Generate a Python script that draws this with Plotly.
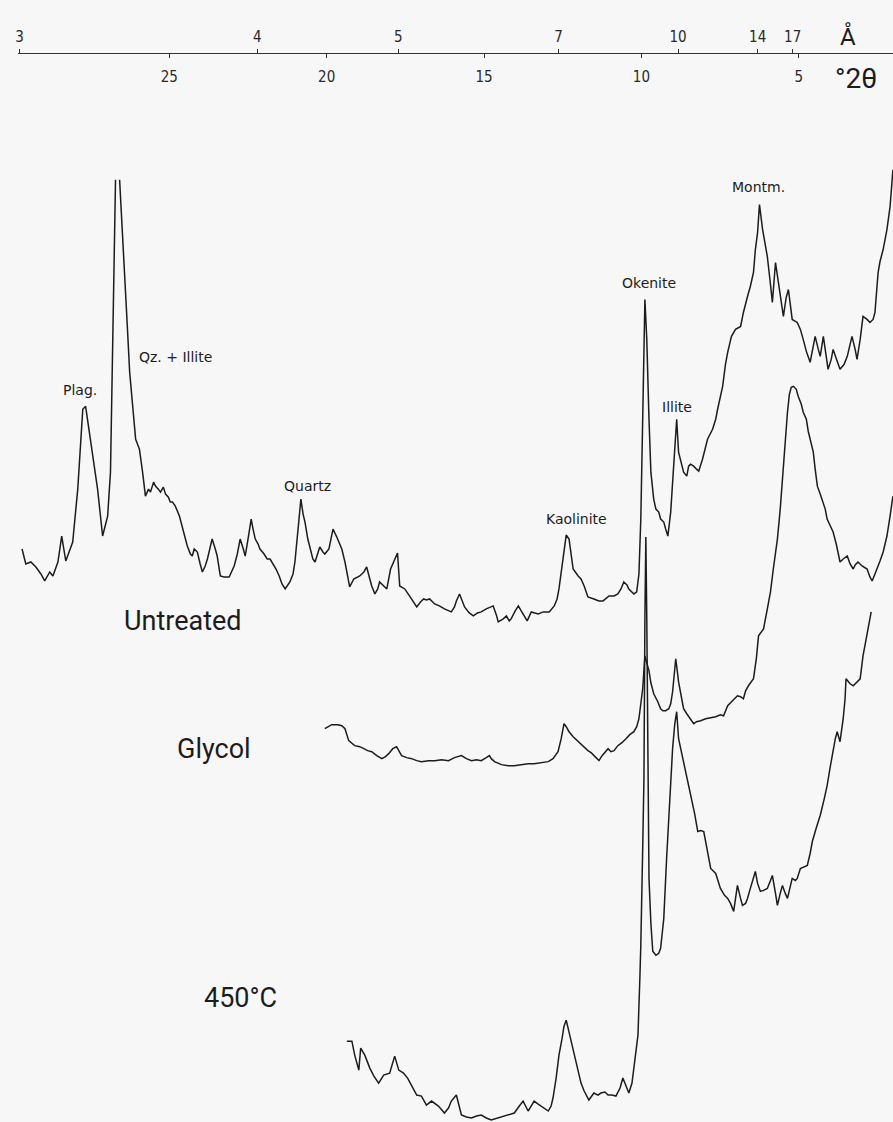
import numpy as np
import plotly.graph_objects as go

# ---- diffraction data (2-theta in degrees, intensity in arbitrary units, stacked) ----
untreated_2theta = [
    29.68, 29.56, 29.40, 29.24, 29.08, 28.96, 28.80, 28.70, 28.54, 28.42,
    28.29, 28.07, 27.91, 27.75, 27.66, 27.56, 27.44, 27.28, 27.12, 26.96,
    26.87, 26.77, 26.71, 26.645, 26.58, 26.49, 26.42, 26.33, 26.26, 26.17,
    26.07, 26.01, 25.95, 25.85, 25.76, 25.66, 25.60, 25.50, 25.44, 25.35,
    25.28, 25.19, 25.12, 25.03, 24.97, 24.90, 24.81, 24.68, 24.59, 24.49,
    24.43, 24.33, 24.27, 24.21, 24.11, 24.02, 23.95, 23.86, 23.79, 23.70,
    23.64, 23.54, 23.48, 23.38, 23.26, 23.10, 23.00, 22.94, 22.84, 22.75,
    22.65, 22.59, 22.50, 22.40, 22.34, 22.27, 22.18, 22.12, 21.99, 21.89,
    21.80, 21.74, 21.61, 21.51, 21.42, 21.32, 21.23, 21.17, 21.07, 21.01,
    20.91, 20.82, 20.75, 20.69, 20.60, 20.53, 20.44, 20.37, 20.28, 20.22,
    20.12, 20.06, 19.93, 19.80, 19.68, 19.58, 19.52, 19.42, 19.33, 19.27,
    19.14, 19.04, 18.95, 18.82, 18.73, 18.63, 18.57, 18.47, 18.38, 18.32,
    18.19, 18.09, 17.97, 17.84, 17.75, 17.68, 17.52, 17.37, 17.24, 17.14,
    17.02, 16.92, 16.83, 16.73, 16.57, 16.42, 16.26, 16.13, 16.04, 15.94,
    15.88, 15.78, 15.69, 15.62, 15.47, 15.34, 15.21, 15.09, 14.93, 14.77,
    14.71, 14.61, 14.55, 14.39, 14.29, 14.20, 14.14, 14.01, 13.91, 13.82,
    13.76, 13.63, 13.50, 13.41, 13.28, 13.12, 12.93, 12.77, 12.68, 12.62,
    12.55, 12.49, 12.39, 12.30, 12.24, 12.17, 12.01, 11.92, 11.82, 11.70,
    11.51, 11.35, 11.22, 11.03, 10.87, 10.75, 10.65, 10.56, 10.46, 10.40,
    10.24, 10.15, 10.08, 10.02, 9.96, 9.89, 9.83, 9.80, 9.76, 9.70,
    9.61, 9.54, 9.45, 9.39, 9.29, 9.23, 9.16, 9.07, 9.01, 8.94,
    8.88, 8.82, 8.75, 8.66, 8.56, 8.50, 8.44, 8.34, 8.25, 8.18,
    8.06, 7.96, 7.90, 7.74, 7.64, 7.58, 7.49, 7.42, 7.33, 7.26,
    7.14, 7.01, 6.85, 6.76, 6.63, 6.54, 6.44, 6.38, 6.31, 6.25,
    6.15, 6.06, 6.00, 5.90, 5.84, 5.74, 5.65, 5.55, 5.49, 5.40,
    5.33, 5.27, 5.21, 5.05, 4.95, 4.86, 4.76, 4.64, 4.57, 4.48,
    4.38, 4.32, 4.22, 4.13, 4.07, 3.97, 3.91, 3.78, 3.69, 3.56,
    3.46, 3.37, 3.31, 3.21, 3.15, 3.05, 2.96, 2.83, 2.74, 2.64,
    2.58, 2.48, 2.42, 2.32, 2.20, 2.10, 2.01,
]
# None marks the off-scale top of the quartz + illite reflection
untreated_counts = [
    572, 557, 559, 554, 547, 540, 549, 545, 559, 585,
    560, 579, 632, 712, 715, 692, 665, 632, 585, 605,
    649, 822, 942, None, 942, 892, 855, 792, 749, 715,
    682, 677, 672, 649, 625, 632, 629, 639, 635, 632,
    629, 634, 627, 624, 619, 619, 615, 605, 595, 584,
    575, 567, 565, 572, 569, 557, 549, 555, 562, 574,
    582, 572, 565, 545, 544, 544, 550, 555, 567, 582,
    572, 565, 582, 602, 592, 582, 577, 572, 567, 562,
    562, 559, 552, 545, 537, 532, 537, 539, 547, 559,
    592, 622, 607, 599, 582, 572, 562, 559, 567, 574,
    569, 567, 572, 592, 584, 577, 572, 559, 545, 534,
    542, 544, 545, 549, 554, 542, 535, 527, 532, 539,
    535, 532, 552, 562, 568, 535, 532, 525, 519, 514,
    519, 522, 521, 522, 517, 515, 512, 510, 509, 514,
    520, 527, 519, 514, 508, 505, 508, 509, 512, 514,
    515, 506, 499, 502, 505, 500, 502, 510, 515, 510,
    507, 500, 509, 508, 507, 509, 509, 515, 522, 532,
    550, 565, 586, 582, 566, 552, 545, 542, 535, 524,
    522, 520, 520, 525, 525, 527, 532, 539, 536, 532,
    527, 529, 547, 602, 702, 822, 782, 742, 702, 649,
    622, 612, 609, 602, 599, 592, 585, 609, 637, 669,
    702, 669, 660, 649, 645, 655, 657, 655, 652, 650,
    662, 674, 682, 692, 702, 712, 727, 735, 757, 769,
    785, 792, 795, 809, 825, 835, 849, 872, 889, 917,
    892, 877, 865, 837, 819, 859, 839, 822, 805, 824,
    832, 817, 802, 799, 792, 782, 770, 759, 772, 785,
    772, 765, 785, 767, 752, 762, 772, 760, 752, 757,
    765, 777, 785, 772, 762, 782, 805, 802, 799, 802,
    809, 849, 860, 872, 892, 915, 952,
]

glycol_2theta = [
    20.06, 19.84, 19.65, 19.52, 19.42, 19.30, 19.11, 18.95, 18.82, 18.70,
    18.57, 18.41, 18.25, 18.13, 18.03, 17.90, 17.78, 17.68, 17.62, 17.46,
    17.30, 17.14, 16.99, 16.76, 16.57, 16.35, 16.13, 15.94, 15.72, 15.56,
    15.40, 15.24, 15.09, 14.93, 14.83, 14.77, 14.67, 14.45, 14.23, 14.04,
    13.82, 13.60, 13.41, 13.19, 12.96, 12.81, 12.65, 12.55, 12.46, 12.39,
    12.30, 12.17, 12.01, 11.86, 11.70, 11.60, 11.51, 11.41, 11.35, 11.25,
    11.13, 11.06, 10.97, 10.87, 10.75, 10.62, 10.49, 10.37, 10.24, 10.15,
    10.08, 10.02, 9.96, 9.89, 9.83, 9.76, 9.70, 9.61, 9.48, 9.39,
    9.32, 9.23, 9.13, 9.07, 9.01, 8.94, 8.91, 8.85, 8.82, 8.72,
    8.66, 8.56, 8.44, 8.34, 8.25, 8.12, 7.96, 7.80, 7.64, 7.49,
    7.39, 7.26, 7.11, 6.95, 6.85, 6.76, 6.69, 6.60, 6.44, 6.35,
    6.28, 6.12, 6.00, 5.90, 5.81, 5.68, 5.59, 5.52, 5.43, 5.36,
    5.30, 5.24, 5.17, 5.08, 5.02, 4.92, 4.86, 4.76, 4.70, 4.64,
    4.54, 4.48, 4.41, 4.32, 4.26, 4.16, 4.10, 4.00, 3.91, 3.81,
    3.75, 3.69, 3.59, 3.46, 3.37, 3.27, 3.21, 3.12, 2.99, 2.83,
    2.74, 2.67, 2.58, 2.51, 2.42, 2.32, 2.20, 2.10, 2.01,
]
glycol_counts = [
    392, 396, 396, 395, 392, 380, 375, 374, 372, 370,
    369, 365, 362, 364, 367, 372, 374, 369, 365, 363,
    362, 360, 359, 360, 360, 361, 360, 363, 365, 362,
    360, 361, 360, 363, 365, 362, 359, 356, 355, 355,
    356, 357, 357, 358, 359, 362, 369, 382, 397, 394,
    389, 384, 379, 374, 370, 368, 365, 362, 360, 365,
    370, 372, 369, 370, 375, 378, 382, 386, 389, 394,
    402, 417, 432, 465, 459, 450, 438, 427, 419, 412,
    410, 410, 412, 417, 429, 450, 462, 447, 439, 422,
    412, 407, 402, 397, 399, 400, 402, 403, 404, 406,
    405, 415, 420, 425, 424, 422, 430, 435, 442, 462,
    485, 492, 512, 529, 552, 582, 612, 642, 682, 709,
    727, 734, 735, 732, 725, 717, 709, 702, 690, 682,
    669, 652, 635, 627, 622, 612, 602, 595, 589, 577,
    566, 559, 562, 565, 557, 552, 556, 559, 555, 552,
    544, 540, 547, 552, 560, 569, 585, 605, 625,
]

heated_2theta = [
    19.36, 19.20, 19.11, 18.98, 18.92, 18.79, 18.63, 18.50, 18.35, 18.19,
    18.00, 17.84, 17.71, 17.56, 17.43, 17.30, 17.14, 16.99, 16.83, 16.67,
    16.45, 16.26, 16.13, 16.04, 15.88, 15.72, 15.56, 15.40, 15.24, 15.09,
    14.93, 14.77, 14.55, 14.36, 14.20, 14.04, 13.88, 13.76, 13.60, 13.50,
    13.41, 13.28, 13.19, 12.96, 12.87, 12.81, 12.71, 12.62, 12.52, 12.46,
    12.39, 12.33, 12.24, 12.14, 12.01, 11.92, 11.82, 11.67, 11.51, 11.38,
    11.29, 11.16, 11.06, 10.94, 10.81, 10.68, 10.59, 10.49, 10.40, 10.30,
    10.24, 10.18, 10.11, 10.05, 10.02, 9.96, 9.92, 9.89, 9.86, 9.83,
    9.80, 9.76, 9.70, 9.64, 9.54, 9.45, 9.39, 9.29, 9.20, 9.10,
    9.01, 8.94, 8.88, 8.82, 8.75, 8.69, 8.59, 8.53, 8.44, 8.31,
    8.21, 8.12, 8.02, 7.90, 7.80, 7.64, 7.55, 7.49, 7.36, 7.26,
    7.17, 7.07, 7.01, 6.95, 6.85, 6.79, 6.69, 6.63, 6.54, 6.44,
    6.38, 6.31, 6.22, 6.12, 6.00, 5.90, 5.84, 5.74, 5.68, 5.59,
    5.52, 5.43, 5.36, 5.27, 5.21, 5.11, 5.05, 4.95, 4.83, 4.73,
    4.64, 4.57, 4.45, 4.32, 4.19, 4.10, 4.00, 3.91, 3.84, 3.78,
    3.69, 3.59, 3.53, 3.50, 3.37, 3.27, 3.15, 3.05, 2.96, 2.89,
    2.83, 2.77, 2.70,
]
heated_counts = [
    79, 79, 65, 50, 72, 65, 52, 44, 37, 45,
    47, 64, 50, 47, 42, 35, 25, 24, 15, 19,
    14, 7, 12, 19, 25, 5, 3, 2, 4, 5,
    2, 0, 2, 4, 5, 7, 14, 19, 9, 14,
    19, 16, 14, 9, 14, 22, 42, 65, 82, 94,
    100, 92, 82, 67, 49, 37, 29, 20, 27, 25,
    27, 28, 25, 25, 24, 32, 42, 34, 27, 37,
    52, 67, 85, 142, 175, 272, 342, 502, 584, 502,
    342, 242, 197, 169, 165, 167, 172, 202, 262, 322,
    372, 397, 409, 382, 372, 362, 347, 339, 329, 307,
    289, 290, 289, 267, 252, 247, 237, 232, 225, 222,
    217, 209, 222, 235, 222, 215, 217, 222, 232, 242,
    249, 237, 229, 230, 232, 240, 245, 227, 215, 227,
    235, 227, 222, 234, 242, 240, 242, 252, 254, 255,
    267, 279, 292, 305, 322, 335, 354, 372, 382, 389,
    379, 402, 422, 442, 437, 435, 439, 442, 465, 477,
    485, 497, 509,
]

# ---- scale ticks ----
two_theta_ticks = [25, 20, 15, 10, 5]
d_spacing_ticks = [3, 4, 5, 7, 10, 14, 17]      # Angstrom
wavelength = 1.5406                              # Cu K-alpha, Angstrom
d_tick_positions = list(np.degrees(2 * np.arcsin(wavelength / (2 * np.array(d_spacing_ticks, float)))))

# ---- styling ----
INK = "#1c1c1c"
BG = "#f7f7f7"
LABEL_FONT = dict(family="DejaVu Sans, Verdana, sans-serif", size=14, color=INK)
BIG_FONT = dict(family="Roboto, Lato, sans-serif", size=27, color=INK)
TICK_FONT = dict(family="Liberation Sans Narrow, DejaVu Sans Condensed, Roboto Condensed, sans-serif",
                 size=15, color="#2a2a2a")

X_RANGE = [29.81, 2.007]
X_DOMAIN = [15 / 893, 1.0]
AXIS_POS = 1 - 53 / 1122

fig = go.Figure()
line_style = dict(color=INK, width=1.5)
for name, xs, ys in [
    ("Untreated", untreated_2theta, untreated_counts),
    ("Glycol", glycol_2theta, glycol_counts),
    ("450°C", heated_2theta, heated_counts),
]:
    fig.add_trace(go.Scatter(x=xs, y=ys, mode="lines", name=name, line=line_style,
                             connectgaps=False, hoverinfo="skip"))

# reflection labels
peak_labels = [
    ("Plag.", 27.85, 731),
    ("Qz. + Illite", 24.81, 764),
    ("Quartz", 20.60, 635),
    ("Kaolinite", 12.05, 602),
    ("Okenite", 9.76, 839),
    ("Illite", 8.88, 714),
    ("Montm.", 6.28, 935),
]
for text, x, y in peak_labels:
    fig.add_annotation(x=x, y=y, xref="x", yref="y", text=text, showarrow=False,
                       font=LABEL_FONT, xanchor="center", yanchor="middle")

# sample treatment labels
treatment_labels = [
    ("Untreated", 24.55, 500),
    ("Glycol", 23.57, 372),
    ("450°C", 22.75, 122),
]
for text, x, y in treatment_labels:
    fig.add_annotation(x=x, y=y, xref="x", yref="y", text=text, showarrow=False,
                       font=BIG_FONT, xanchor="center", yanchor="middle")

# unit labels of the two scales
fig.add_annotation(x=848 / 893, y=1 - 37 / 1122, xref="paper", yref="paper", text="Å",
                   showarrow=False, xanchor="center", yanchor="middle",
                   font=dict(family="Roboto, sans-serif", size=24, color=INK))
fig.add_annotation(x=856 / 893, y=1 - 78 / 1122, xref="paper", yref="paper", text="°2θ",
                   showarrow=False, xanchor="center", yanchor="middle",
                   font=dict(family="Roboto, sans-serif", size=28, color=INK))

fig.update_layout(
    width=893, height=1122, autosize=False,
    margin=dict(l=0, r=0, t=0, b=0, pad=0),
    paper_bgcolor=BG, plot_bgcolor=BG,
    showlegend=False,
    xaxis=dict(
        domain=X_DOMAIN, range=X_RANGE, anchor="free", position=AXIS_POS, side="bottom",
        tickmode="array", tickvals=two_theta_ticks, ticktext=[str(v) for v in two_theta_ticks],
        ticks="outside", ticklen=4, tickwidth=1, tickcolor="#333333",
        showline=True, linecolor="#333333", linewidth=1.3,
        showgrid=False, zeroline=False, tickfont=TICK_FONT, ticklabelstandoff=6,
    ),
    xaxis2=dict(
        domain=X_DOMAIN, range=X_RANGE, anchor="free", position=AXIS_POS, side="top",
        overlaying="x",
        tickmode="array", tickvals=d_tick_positions, ticktext=[str(v) for v in d_spacing_ticks],
        ticks="outside", ticklen=4, tickwidth=1, tickcolor="#333333",
        showline=False, showgrid=False, zeroline=False, tickfont=TICK_FONT, ticklabelstandoff=1,
    ),
    yaxis=dict(domain=[0, 1], range=[-2, 1122], visible=False, fixedrange=True),
)
# an invisible trace keeps the top (d-spacing) scale drawn
fig.add_trace(go.Scatter(x=[X_RANGE[0]], y=[None], xaxis="x2", yaxis="y", mode="lines",
                         showlegend=False, hoverinfo="skip"))

fig.write_html("out.html")
